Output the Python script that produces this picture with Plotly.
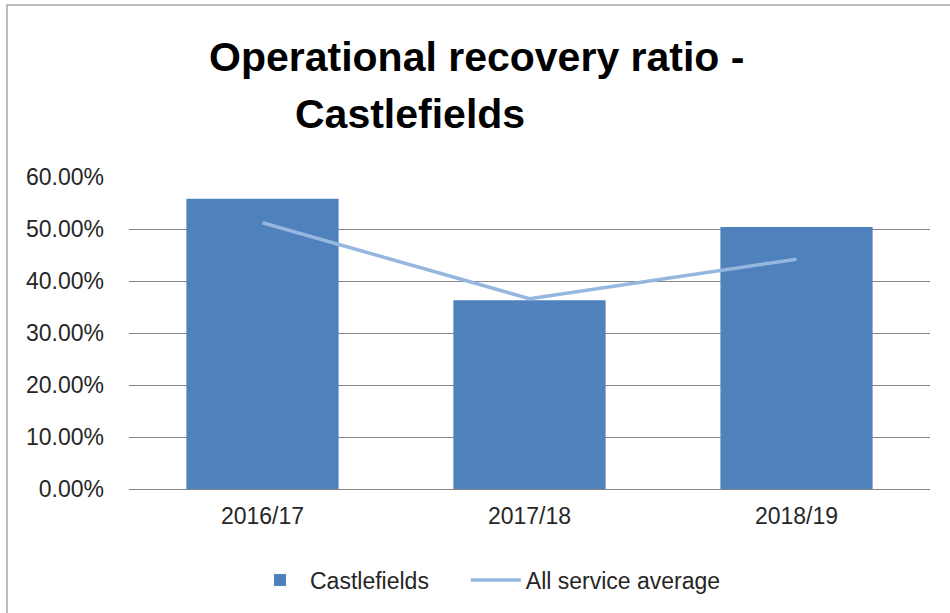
import plotly.graph_objects as go

categories = ["2016/17", "2017/18", "2018/19"]
castlefields = [0.558, 0.363, 0.504]
all_service_avg = [0.512, 0.366, 0.442]
y_ticks = [0, 0.1, 0.2, 0.3, 0.4, 0.5, 0.6]
y_tick_labels = ["0.00%", "10.00%", "20.00%", "30.00%", "40.00%", "50.00%", "60.00%"]

W, H = 950, 613
L, R, T, B = 129, 20, 177, 124
pw, ph = W - L - R, H - T - B

def px(x):
    return (x - L) / pw

def py(y):
    return (H - B - y) / ph

FONT = "Liberation Sans, Arial, sans-serif"
PAD = "\u00a0" * 5

fig = go.Figure()
fig.add_trace(go.Bar(
    x=categories, y=castlefields, name="Castlefields" + PAD,
    marker=dict(color="#4F81BD", line=dict(width=0)),
))
fig.add_trace(go.Scatter(
    x=categories, y=all_service_avg, name="All service average",
    mode="lines", line=dict(color="#95B6DF", width=3.5),
))

fig.update_layout(
    width=W, height=H,
    margin=dict(l=L, r=R, t=T, b=B),
    paper_bgcolor="white", plot_bgcolor="white",
    font=dict(family=FONT, size=23, color="#262626"),
    bargap=0.43,
    showlegend=True,
    legend=dict(orientation="h", x=px(250), y=py(580), xanchor="left", yanchor="middle",
                font=dict(size=23, color="#262626"), itemwidth=50, tracegroupgap=0),
    xaxis=dict(showgrid=False, showline=True, linecolor="#868686", linewidth=1,
               ticks="", tickfont=dict(size=23), ticklabelstandoff=6),
    yaxis=dict(range=[0, 0.6], tickvals=y_ticks, ticktext=y_tick_labels,
               showgrid=True, gridcolor="#868686", gridwidth=1, zeroline=False,
               showline=False, ticks="", ticklabelstandoff=24, tickfont=dict(size=23)),
    annotations=[
        dict(text="<b>Operational recovery ratio -</b>", xref="paper", yref="paper",
             x=px(207), y=py(57), xanchor="left", yanchor="middle", showarrow=False,
             font=dict(size=41, color="black", family=FONT)),
        dict(text="<b>Castlefields</b>", xref="paper", yref="paper",
             x=px(293), y=py(114), xanchor="left", yanchor="middle", showarrow=False,
             font=dict(size=41, color="black", family=FONT)),
    ],
    shapes=[
        dict(type="rect", xref="paper", yref="paper", x0=px(7), x1=px(970), y0=py(640), y1=py(5),
             line=dict(color="#A6A6A6", width=1.5), fillcolor="rgba(0,0,0,0)", layer="below"),
    ],
)

fig.write_html("out.html", config={"displayModeBar": False},
               post_script="document.body.style.margin='0';document.body.style.overflow='hidden';")
